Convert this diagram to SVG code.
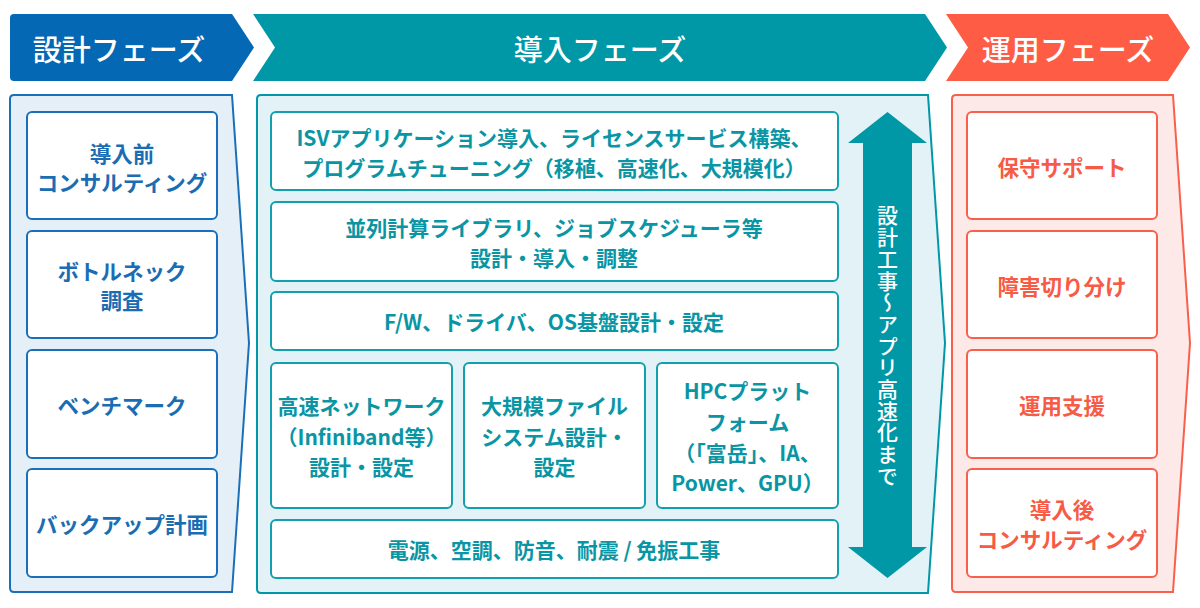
<svg xmlns="http://www.w3.org/2000/svg" width="1200" height="608" viewBox="0 0 1200 608">
<defs>
<style>
text{font-family:"Noto Sans CJK JP","Noto Sans",sans-serif;dominant-baseline:central;text-anchor:middle}
.hd{fill:#fff;font-size:29px;font-weight:500}
.bl{fill:#1a6db3;font-size:21.5px;font-weight:700}
.tl{fill:#0a95a4;font-size:21px;font-weight:700}
.rd{fill:#f75a45;font-size:21.5px;font-weight:700}
.bb{fill:#fff;stroke:#1a70b8;stroke-width:2}
.tb{fill:#fff;stroke:#12a0ae;stroke-width:2}
.rb{fill:#fff;stroke:#f9604b;stroke-width:2}
</style>
</defs>
<rect width="1200" height="608" fill="#fff"/>
<g id="phase-design">
<path d="M14,14 H232 L254,47.5 L232,81 H14 Q10,81 10,77 V18 Q10,14 14,14 Z" fill="#0468b4"/>
<text class="hd" x="119" y="47.5">設計フェーズ</text>
</g>
<g id="phase-intro">
<path d="M253,14 H925 L947,47.5 L925,81 H253 L275,47.5 Z" fill="#0097a6"/>
<text class="hd" x="600" y="47.5">導入フェーズ</text>
</g>
<g id="phase-ops">
<path d="M946,14 H1168 L1190,47.5 L1168,81 H946 L968,47.5 Z" fill="#ff5c45"/>
<text class="hd" x="1068" y="47.5">運用フェーズ</text>
</g>
<g id="panel-design">
<path d="M14,95 H232 L249,343 L232,592 H14 Q10,592 10,588 V99 Q10,95 14,95 Z" fill="#e4eff8" stroke="#1a70b8" stroke-width="2"/>
</g>
<g id="panel-intro">
<path d="M261,95 H928 L945,343 L928,593 H261 Q257,593 257,589 V99 Q257,95 261,95 Z" fill="#e3f2f6" stroke="#0097a6" stroke-width="2"/>
</g>
<g id="panel-ops">
<path d="M956,95 H1173 L1190,343 L1173,592 H956 Q952,592 952,588 V99 Q952,95 956,95 Z" fill="#fde9e7" stroke="#f9604b" stroke-width="2"/>
</g>
<g id="d1"><rect class="bb" x="27" y="112" width="190" height="107" rx="5"/><text class="bl" x="122" y="152">導入前</text><text class="bl" x="122" y="181">コンサルティング</text></g>
<g id="d2"><rect class="bb" x="27" y="231" width="190" height="107" rx="5"/><text class="bl" x="122" y="270">ボトルネック</text><text class="bl" x="122" y="299">調査</text></g>
<g id="d3"><rect class="bb" x="27" y="350" width="190" height="108" rx="5"/><text class="bl" x="122" y="404">ベンチマーク</text></g>
<g id="d4"><rect class="bb" x="27" y="469" width="190" height="108" rx="5"/><text class="bl" x="122" y="523">バックアップ計画</text></g>
<g id="i1"><rect class="tb" x="271" y="112" width="567" height="78" rx="5"/><text class="tl" x="554" y="137">ISVアプリケーション導入、ライセンスサービス構築、</text><text class="tl" x="554" y="167">プログラムチューニング（移植、高速化、大規模化）</text></g>
<g id="i2"><rect class="tb" x="271" y="202" width="567" height="79" rx="5"/><text class="tl" x="554" y="227">並列計算ライブラリ、ジョブスケジューラ等</text><text class="tl" x="554" y="257">設計・導入・調整</text></g>
<g id="i3"><rect class="tb" x="271" y="292" width="567" height="58" rx="5"/><text class="tl" x="554" y="321">F/W、ドライバ、OS基盤設計・設定</text></g>
<g id="i4"><rect class="tb" x="271" y="363" width="181" height="145" rx="5"/><text class="tl" x="361.5" y="405">高速ネットワーク</text><text class="tl" x="361.5" y="436">（Infiniband等）</text><text class="tl" x="361.5" y="466">設計・設定</text></g>
<g id="i5"><rect class="tb" x="464" y="363" width="181" height="145" rx="5"/><text class="tl" x="554.5" y="405">大規模ファイル</text><text class="tl" x="554.5" y="436">システム設計・</text><text class="tl" x="554.5" y="466">設定</text></g>
<g id="i6"><rect class="tb" x="657" y="363" width="181" height="145" rx="5"/><text class="tl" x="747.5" y="390">HPCプラット</text><text class="tl" x="747.5" y="421">フォーム</text><text class="tl" x="747.5" y="452">（「富岳」、IA、</text><text class="tl" x="747.5" y="482">Power、GPU）</text></g>
<g id="i7"><rect class="tb" x="271" y="520" width="567" height="58" rx="5"/><text class="tl" x="554" y="549">電源、空調、防音、耐震 / 免振工事</text></g>
<g id="r1"><rect class="rb" x="967" y="112" width="190" height="107" rx="5"/><text class="rd" x="1062" y="166">保守サポート</text></g>
<g id="r2"><rect class="rb" x="967" y="231" width="190" height="107" rx="5"/><text class="rd" x="1062" y="285">障害切り分け</text></g>
<g id="r3"><rect class="rb" x="967" y="350" width="190" height="108" rx="5"/><text class="rd" x="1062" y="404">運用支援</text></g>
<g id="r4"><rect class="rb" x="967" y="469" width="190" height="108" rx="5"/><text class="rd" x="1062" y="508">導入後</text><text class="rd" x="1062" y="538">コンサルティング</text></g>
<g id="connectors">
<polygon points="887.5,112 927,143 912,143 912,547 927,547 887.5,578 848,547 863,547 863,143 848,143" fill="#0097a6"/>
<text x="887.5" y="346" style="writing-mode:vertical-rl;fill:#fff;font-size:21px;font-weight:500;letter-spacing:0.7px">設計工事～アプリ高速化まで</text>
</g>
</svg>
